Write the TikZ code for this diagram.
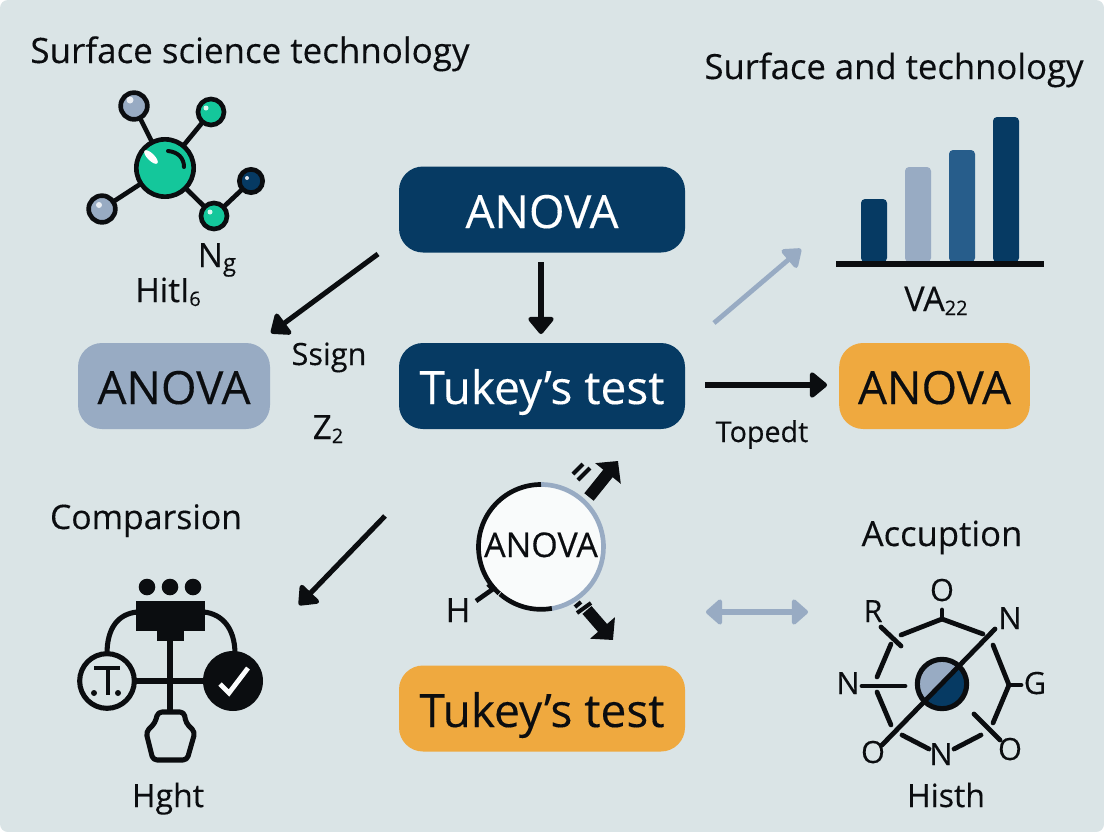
\documentclass[tikz,border=0pt]{standalone}
\usepackage{fontspec}
\setmainfont{Open Sans}[FakeBold=0.25]
\usetikzlibrary{arrows.meta}
\definecolor{bgc}{HTML}{DAE4E6}
\definecolor{navy}{HTML}{063A63}
\definecolor{slate}{HTML}{98ABC3}
\definecolor{amber}{HTML}{EFA93F}
\definecolor{teal}{HTML}{14C79B}
\definecolor{midblue}{HTML}{275D8B}
\definecolor{ink}{HTML}{0B0D10}
\tikzset{x=0.75pt,y=-0.75pt,
 box/.style={rounded corners=18pt,minimum width=214.5pt,minimum height=64.5pt,inner sep=0pt},
 lbl/.style={text=ink,inner sep=0pt,anchor=base},
 atom/.style={circle,draw=ink,line width=3.5pt,inner sep=0pt},
 bond/.style={draw=ink,line width=3.5pt},
 thick arrow/.style={draw=ink,line width=3.8pt,-{Triangle[round,length=14pt,width=22pt]}},
 icon/.style={draw=ink,line width=3.8pt},
 ringline/.style={draw=ink,line width=3.6pt,line cap=round}}
\newcommand{\fs}[1]{\fontsize{#1}{#1}\selectfont}
\begin{document}
\begin{tikzpicture}
\useasboundingbox (0,0) rectangle (1104,832);
\fill[white] (0,0) rectangle (1104,832);
\fill[bgc,rounded corners=6pt] (0,0) rectangle (1104,832);
% main boxes
\node[box,fill=navy] (anovaTop) at (542,209.5) {};
\node[box,fill=navy] (tukeyMid) at (542,386) {};
\node[box,fill=amber] (tukeyBot) at (542,708.5) {};
\node[box,fill=slate,minimum width=144pt] (anovaLeft) at (174,386) {};
\node[box,fill=amber,minimum width=143pt] (anovaRight) at (934.5,386) {};
\node[lbl,text=white] at (542,228) {\fs{34.3}ANOVA};
\node[lbl,text=white] at (542,404) {\fs{34.5}Tukey’s test};
\node[lbl] at (542,727) {\fs{34.5}Tukey’s test};
\node[lbl] at (174,404) {\fs{34.3}ANOVA};
\node[lbl] at (934.5,404) {\fs{34.3}ANOVA};
% titles
\node[lbl] (t1) at (250,63) {\fs{26.2}Surface science technology};
\node[lbl] (t2) at (894,79) {\fs{26}Surface and technology};
\node[lbl] (t3) at (146,529) {\fs{25.3}Comparsion};
\node[lbl] (t4) at (942,546) {\fs{26}Accuption};
\node[lbl] (t5) at (168,807) {\fs{24}Hght};
\node[lbl] (t6) at (946,807) {\fs{24}Histh};
\node[lbl] (t7) at (329,365) {\fs{23}Ssign};
\node[lbl] (t8) at (762,442) {\fs{21.5}Topedt};
\node[lbl] (t9) at (328,439) {\fs{25}Z\raisebox{-3pt}{\fs{15}2}};
\node[lbl] (t10) at (217,267) {\fs{25}N\raisebox{-3pt}{\fs{18}g}};
\node[lbl] (t11) at (168,302) {\fs{25}HitI\raisebox{-3pt}{\fs{15}6}};
\node[lbl] (t12) at (936,311) {\fs{25.5}VA\raisebox{-3pt}{\fs{15}22}};
\node[lbl] (t13) at (458,622) {\fs{25}H};
% connectors
\coordinate (a1s) at (378,254); \coordinate (a1e) at (271,333);
\coordinate (a2s) at (541,262); \coordinate (a2e) at (541,334);
\coordinate (a3s) at (705,385); \coordinate (a3e) at (827,385);
\coordinate (a4s) at (385,516); \coordinate (a4e) at (299,605);
\coordinate (a5s) at (714,323); \coordinate (a5e) at (801,249);
\coordinate (a6s) at (706,612); \coordinate (a6e) at (808,612);
\draw[thick arrow] (a1s) -- (a1e);
\draw[thick arrow] (a2s) -- (a2e);
\draw[thick arrow] (a3s) -- (a3e);
\draw[thick arrow] (a4s) -- (a4e);
\draw[draw=slate,line width=3.6pt,-{Triangle[round,length=14pt,width=20pt]}] (a5s) -- (a5e);
\draw[draw=slate,line width=4.5pt,{Triangle[round,length=13pt,width=22pt]}-{Triangle[round,length=13pt,width=22pt]}] (a6s) -- (a6e);
% molecule
\coordinate (mc) at (165,168);
\coordinate (m1) at (134,106);
\coordinate (m2) at (211,112);
\coordinate (m3) at (102,209);
\coordinate (m4) at (214,216);
\coordinate (m5) at (251,181);
\draw[bond] (mc)--(m1); \draw[bond] (mc)--(m2); \draw[bond] (mc)--(m3); \draw[bond] (mc)--(m4); \draw[bond] (m4)--(m5);
\node[atom,fill=slate,minimum size=20pt] (n1) at (m1) {};
\node[atom,fill=teal,minimum size=19.5pt] (n2) at (m2) {};
\node[atom,fill=slate,minimum size=20pt] (n3) at (m3) {};
\node[atom,fill=teal,minimum size=19.5pt] (n4) at (m4) {};
\node[atom,fill=navy,minimum size=17.5pt] (n5) at (m5) {};
\node[atom,fill=teal,minimum size=43pt] (n0) at (mc) {};
\fill[white,rotate around={-45:(151,157)}] (151,157) ellipse (9 and 3.5);
\fill[white!80!slate] (130,100) circle (3.5);
\fill[white!85!teal] (206,108) circle (2.5);
\fill[white!80!slate] (99,205) circle (3);
\fill[white!85!teal] (210,212) circle (2.5);
\fill[white!85!navy] (247,178) circle (2);
\draw[ink,line width=3pt,line cap=round] (168,151) .. controls (178,152) and (184,158) .. (184,167);
% bar chart
\fill[navy,rounded corners=3pt] (861,262) -- (861,199) -- (887,199) -- (887,262) -- cycle;
\fill[slate,rounded corners=3pt] (905,262) -- (905,167) -- (931,167) -- (931,262) -- cycle;
\fill[midblue,rounded corners=3pt] (949,262) -- (949,150) -- (975,150) -- (975,262) -- cycle;
\fill[navy,rounded corners=3pt] (993,262) -- (993,117) -- (1019,117) -- (1019,262) -- cycle;
\fill[ink] (836,261) rectangle (1044,267);
% magnifier circle
\coordinate (cc) at (541,547);
\fill[white!85!bgc] (cc) circle (62);
\draw[slate,line width=3.5pt] (541,484.5) arc (-90:82:62.5);
\draw[ink,line width=3.5pt] (541,484.5) arc (-90:-228:62.5);
\draw[ink,line width=3.5pt] (500,594) arc (131:80:62.5);
\node[lbl] (cText) at (541,557) {\fs{25.5}ANOVA};
\draw[ink,line width=3.5pt] (476,601) -- (493,589) -- (488,584);
\draw[ink,line width=9pt,-{Triangle[length=12pt,width=24pt]}] (589,497) -- (618,461);
\draw[ink,line width=3pt] (573,474) -- (583,464);
\draw[ink,line width=3pt] (578,480) -- (590,468);
\draw[ink,line width=9pt,-{Triangle[length=12pt,width=24pt]}] (587,610) -- (613,640);
\draw[ink,line width=3pt] (575,607) -- (581,602);
\draw[ink,line width=3pt] (577,613) -- (591,603);
% network icon
\fill[ink] (147,587) circle (8.3);
\fill[ink] (170,587) circle (8.3);
\fill[ink] (193,587) circle (8.3);
\fill[ink] (136,601) rectangle (205,631);
\fill[ink] (157,631) rectangle (184,641);
\draw[icon] (137,612) .. controls (118,614) and (107,628) .. (107,654);
\draw[icon] (204,612) .. controls (222,614) and (235,628) .. (235,654);
\draw[icon] (170,640) -- (170,712);
\draw[icon] (135,681) -- (205,681);
\node[circle,draw=ink,line width=3.8pt,fill=bgc,minimum size=41pt,inner sep=0pt] (tc) at (107,681) {};
\node[circle,fill=ink,minimum size=45pt,inner sep=0pt] (cc2) at (233,681) {};
\draw[white!90!bgc,line width=3.6pt,line join=miter] (220,684) -- (229,693) -- (248,668);
\draw[ink,line width=3.4pt] (94,668) -- (120,668);
\draw[ink,line width=3.6pt] (108,668) -- (108,695);
\fill[ink] (94,693) circle (3);
\fill[ink] (118,693) circle (3);
\draw[icon,line join=round,rounded corners=3pt] (158,712) -- (184,712) -- (186,723) -- (195,732) -- (187,760) -- (153,760) -- (146,732) -- (155,723) -- cycle;
% ring icon
\node[circle,draw=ink,line width=3.8pt,inner sep=0pt,minimum size=37pt,
  path picture={\fill[slate] (path picture bounding box.south west) -- (path picture bounding box.north west) -- (path picture bounding box.north east) -- cycle;
  \fill[navy] (path picture bounding box.south west) -- (path picture bounding box.south east) -- (path picture bounding box.north east) -- cycle;}] (ringC) at (942,684) {};
\draw[ringline] (882,745) -- (995,629);
\node[lbl] (oT) at (942,601) {\fs{23}O};
\node[lbl] (rL) at (873,622) {\fs{23}R};
\node[lbl] (nTR) at (1010,629) {\fs{23}N};
\node[lbl] (nL) at (848,694) {\fs{23}N};
\node[lbl] (gR) at (1035,694) {\fs{23}G};
\node[lbl] (oBL) at (873,763) {\fs{23}O};
\node[lbl] (nB) at (941,765) {\fs{23}N};
\node[lbl] (oBR) at (1010,760) {\fs{23}O};
\foreach \a/\b in {{942,610}/{942,619},{942,619}/{901,635},{942,619}/{983,634},{881,627}/{901,646},{891,644}/{877,677},{877,692}/{891,725},{902,735}/{929,749},{954,749}/{981,735},{993,645}/{1009,685},{1009,685}/{993,723},{1009,685}/{1021,685},{862,686}/{905,686},{974,714}/{1000,740}}
 \draw[ringline] (\a) -- (\b);
\end{tikzpicture}
\end{document}
